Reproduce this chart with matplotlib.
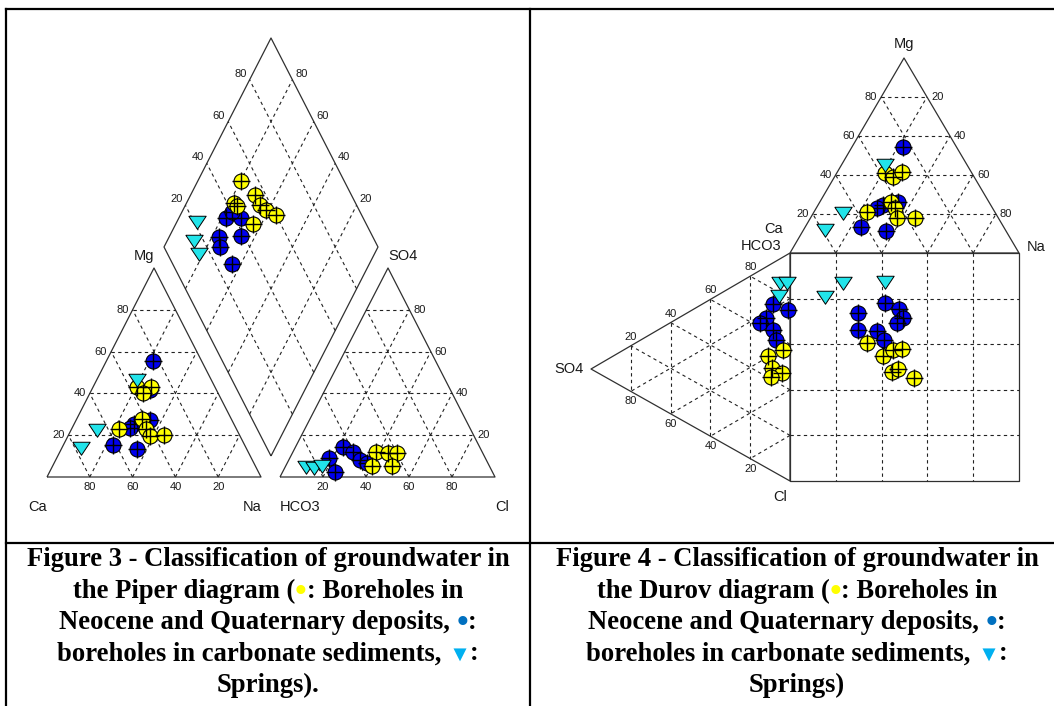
import numpy as np
import matplotlib
matplotlib.use('Agg')
from matplotlib import pyplot as plt

W, H = 1054, 706

# ---------------- values (percent) ----------------
# Piper, cation triangle: Mg %, Na % (Ca is the rest)
pip_cat_blue_mg = [55.5, 41.6, 25.4, 23.4, 27.3, 15.3, 13.4]
pip_cat_blue_na = [21.8, 27.3, 28.0, 27.1, 34.5, 23.2, 35.4]
pip_cat_yel_mg = [43.1, 43.1, 40.2, 23.0, 27.8, 23.0, 19.6, 20.1]
pip_cat_yel_na = [20.6, 27.1, 24.8, 22.1, 30.5, 34.8, 38.3, 44.7]
pip_cat_spr_mg = [46.4, 22.5, 13.9]
pip_cat_spr_na = [18.9, 12.2, 9.0]

# Piper, anion triangle: SO4 %, Cl % (HCO3 is the rest)
pip_an_blue_so4 = [14.4, 9.1, 2.4, 12.0, 8.1, 6.7]
pip_an_blue_cl = [22.1, 18.3, 24.4, 28.0, 33.1, 37.2]
pip_an_yel_so4 = [12.0, 5.3, 11.5, 11.5, 5.3]
pip_an_yel_cl = [38.7, 40.2, 44.5, 48.7, 49.5]
pip_an_spr_so4 = [4.8, 4.3, 5.3]
pip_an_spr_cl = [9.7, 13.6, 16.9]

# Piper, diamond: Ca+Mg %, SO4+Cl %
pip_dia_blue_camg = [78.2, 71.2, 76.4, 76.5, 66.9, 74.0, 64.0]
pip_dia_blue_so4cl = [35.7, 42.7, 40.4, 28.3, 38.4, 26.0, 28.0]
pip_dia_yel_camg = [80.0, 69.7, 65.0, 61.0, 55.1, 63.7, 78.0, 75.5]
pip_dia_yel_so4cl = [51.5, 55.2, 55.1, 56.7, 60.2, 47.3, 43.0, 44.1]
pip_dia_spr_camg = [90.8, 87.6, 82.2]
pip_dia_spr_so4cl = [21.2, 15.2, 14.5]

# Durov, cation triangle: Mg %, Na %
dur_cat_blue_mg = [54.4, 24.6, 26.2, 23.1, 11.3, 13.3]
dur_cat_blue_na = [22.1, 28.3, 34.1, 26.5, 36.3, 24.3]
dur_cat_yel_mg = [41.0, 39.0, 41.5, 21.0, 26.2, 23.1, 17.9, 17.9]
dur_cat_yel_na = [21.0, 25.5, 28.1, 23.1, 31.0, 34.4, 37.7, 45.6]
dur_cat_spr_mg = [45.1, 20.5, 11.8]
dur_cat_spr_na = [18.9, 12.8, 9.4]

# Durov, anion triangle: SO4 %, Cl %
dur_an_blue_so4 = [8.5, 1.0, 12.1, 15.1, 8.5, 7.0]
dur_an_blue_cl = [18.1, 24.5, 22.5, 23.2, 29.5, 34.7]
dur_an_yel_so4 = [11.1, 3.5, 9.0, 4.0, 9.5]
dur_an_yel_cl = [39.7, 40.7, 45.9, 50.6, 49.6]
dur_an_spr_so4 = [5.0, 1.5, 5.5]
dur_an_spr_cl = [10.7, 12.4, 16.1]

# Durov, central square: horizontal % (from left), vertical % (from top)
dur_sq_blue_x = [29.7, 29.7, 41.5, 47.6, 49.3, 46.7, 38.0, 41.0]
dur_sq_blue_y = [26.3, 33.8, 21.9, 24.6, 28.5, 30.7, 34.2, 38.2]
dur_sq_yel_x = [33.6, 40.6, 45.0, 48.9, 44.5, 47.2, 54.1]
dur_sq_yel_y = [39.5, 45.2, 42.5, 42.1, 52.2, 50.9, 54.8]
dur_sq_spr_x = [15.3, 23.1, 41.5]
dur_sq_spr_y = [19.3, 13.2, 12.7]

grid_levels = [20, 40, 60, 80]

caption_left = [
    [("Figure 3 - Classification of groundwater in", 'k')],
    [("the Piper diagram (", 'k'), ("\u2022", '#FFFF00'), (": Boreholes in", 'k')],
    [("Neocene and Quaternary deposits,", 'k'), (" ", None), ("\u2022", '#0070C0'), (":", 'k')],
    [("boreholes in carbonate sediments,", 'k'), (" ", None), ("\u25BC", '#00B0F0'), (":", 'k')],
    [("Springs).", 'k')],
]
caption_right = [
    [("Figure 4 - Classification of groundwater in", 'k')],
    [("the Durov diagram (", 'k'), ("\u2022", '#FFFF00'), (": Boreholes in", 'k')],
    [("Neocene and Quaternary deposits,", 'k'), (" ", None), ("\u2022", '#0070C0'), (":", 'k')],
    [("boreholes in carbonate sediments,", 'k'), (" ", None), ("\u25BC", '#00B0F0'), (":", 'k')],
    [("Springs)", 'k')],
]

c_yellow = '#FFFF00'
c_blue = '#0000F0'
c_cyan = '#22E4EA'

sans = ['Liberation Sans', 'DejaVu Sans']
serif = ['Liberation Serif', 'DejaVu Serif']

fig = plt.figure(figsize=(W / 100, H / 100), dpi=100)
ax = fig.add_axes([0, 0, 1, 1])
ax.set_xlim(0, W)
ax.set_ylim(H, 0)
ax.axis('off')


def tri(o, a, b, fa, fb):
    fa = np.asarray(fa, float) / 100
    fb = np.asarray(fb, float) / 100
    x = o[0] + fa * (a[0] - o[0]) + fb * (b[0] - o[0])
    y = o[1] + fa * (a[1] - o[1]) + fb * (b[1] - o[1])
    return x, y


def seg(p, q, **kw):
    ax.plot([p[0], q[0]], [p[1], q[1]], **kw)


edge_kw = dict(color='#303030', lw=0.9, solid_capstyle='butt')
dash_kw = dict(color='#222222', lw=0.8, ls=(0, (3, 3)))


def triangle(o, a, b):
    ax.plot([o[0], a[0], b[0], o[0]], [o[1], a[1], b[1], o[1]], **edge_kw)
    for f in grid_levels:
        seg(tri(o, a, b, 0, f), tri(o, a, b, 100 - f, f), **dash_kw)
        seg(tri(o, a, b, f, 0), tri(o, a, b, f, 100 - f), **dash_kw)
        seg(tri(o, a, b, 100 - f, 0), tri(o, a, b, 0, 100 - f), **dash_kw)


def circles(x, y, fc):
    ax.plot(x, y, 'o', ms=10.8, mfc=fc, mec='k', mew=0.8, ls='none')
    ax.plot(x, y, '+', ms=13, mec='k', mew=1.0, ls='none')


spring_marker = [(-1, 0.72), (1, 0.72), (0, -0.78), (-1, 0.72)]


def springs(x, y):
    ax.plot(x, y, marker=spring_marker, ms=12.5, mfc=c_cyan, mec='k', mew=0.7, ls='none')


def lab(x, y, s, size=8, **kw):
    ax.text(x, y, s, fontsize=size, family=sans, color='#1a1a1a', **kw)


# ======================= Piper diagram =======================
P_CA, P_NA, P_MG = (47, 477), (261, 477), (154, 268)
P_HC, P_CL, P_SO = (280, 477), (495, 477), (388, 268)
D_B, D_L, D_R = (271, 456), (164, 247), (378, 247)

triangle(P_CA, P_NA, P_MG)
triangle(P_HC, P_CL, P_SO)

# diamond
dia = lambda p, q: tri(D_B, D_L, D_R, p, q)
corners = [dia(0, 0), dia(100, 0), dia(100, 100), dia(0, 100), dia(0, 0)]
ax.plot([c[0] for c in corners], [c[1] for c in corners], **edge_kw)
for f in grid_levels:
    seg(dia(f, 0), dia(f, 100), **dash_kw)
    seg(dia(0, f), dia(100, f), **dash_kw)

for f in grid_levels:
    x, y = tri(P_CA, P_NA, P_MG, 0, f)
    lab(x - 4, y, str(f), ha='right', va='center')
    x, y = tri(P_CA, P_NA, P_MG, 100 - f, 0)
    lab(x, y + 10, str(f), ha='center', va='center')
    x, y = tri(P_HC, P_CL, P_SO, 100 - f, f)
    lab(x + 4, y, str(f), ha='left', va='center')
    x, y = tri(P_HC, P_CL, P_SO, f, 0)
    lab(x, y + 10, str(f), ha='center', va='center')
    x, y = dia(100, f)
    lab(x - 3, y - 1, str(f), ha='right', va='bottom')
    x, y = dia(f, 100)
    lab(x + 3, y - 1, str(f), ha='left', va='bottom')

lab(P_MG[0], P_MG[1] - 12, 'Mg', size=10.5, ha='right', va='center')
lab(P_SO[0], P_SO[1] - 12, 'SO4', size=10.5, ha='left', va='center')
lab(P_CA[0], 507, 'Ca', size=10.5, ha='right', va='center')
lab(P_NA[0], 507, 'Na', size=10.5, ha='right', va='center')
lab(P_HC[0], 507, 'HCO3', size=10.5, ha='left', va='center')
lab(P_CL[0], 507, 'Cl', size=10.5, ha='left', va='center')

circles(*tri(P_CA, P_NA, P_MG, pip_cat_blue_na, pip_cat_blue_mg), c_blue)
circles(*tri(P_CA, P_NA, P_MG, pip_cat_yel_na, pip_cat_yel_mg), c_yellow)
springs(*tri(P_CA, P_NA, P_MG, pip_cat_spr_na, pip_cat_spr_mg))

circles(*tri(P_HC, P_CL, P_SO, pip_an_blue_cl, pip_an_blue_so4), c_blue)
circles(*tri(P_HC, P_CL, P_SO, pip_an_yel_cl, pip_an_yel_so4), c_yellow)
springs(*tri(P_HC, P_CL, P_SO, pip_an_spr_cl, pip_an_spr_so4))

circles(*dia(pip_dia_blue_camg, pip_dia_blue_so4cl), c_blue)
circles(*dia(pip_dia_yel_camg, pip_dia_yel_so4cl), c_yellow)
springs(*dia(pip_dia_spr_camg, pip_dia_spr_so4cl))

# ======================= Durov diagram =======================
U_L, U_R, U_A = (790, 253), (1019, 253), (904, 58)
V_T, V_C, V_S = (790, 253), (790, 481), (591, 369)
SQ_X0, SQ_X1, SQ_Y0, SQ_Y1 = 790, 1019, 253, 481

triangle(U_L, U_R, U_A)
triangle(V_T, V_C, V_S)
ax.plot([SQ_X0, SQ_X1, SQ_X1, SQ_X0, SQ_X0], [SQ_Y0, SQ_Y0, SQ_Y1, SQ_Y1, SQ_Y0], **edge_kw)
for f in grid_levels:
    xg = SQ_X0 + (SQ_X1 - SQ_X0) * f / 100
    yg = SQ_Y0 + (SQ_Y1 - SQ_Y0) * f / 100
    seg((xg, SQ_Y0), (xg, SQ_Y1), **dash_kw)
    seg((SQ_X0, yg), (SQ_X1, yg), **dash_kw)

for f in grid_levels:
    x, y = tri(U_L, U_R, U_A, 0, f)
    lab(x - 4, y, str(f), ha='right', va='center')
    x, y = tri(U_L, U_R, U_A, 100 - f, f)
    lab(x + 4, y, str(100 - f), ha='left', va='center')
    x, y = tri(V_T, V_C, V_S, 0, f)
    lab(x, y - 4, str(100 - f), ha='center', va='bottom')
    x, y = tri(V_T, V_C, V_S, 100 - f, f)
    lab(x, y + 5, str(f), ha='center', va='top')

lab(U_A[0], U_A[1] - 14, 'Mg', size=10.5, ha='center', va='center')
lab(U_R[0] + 8, U_R[1] - 6, 'Na', size=10.5, ha='left', va='center')
lab(U_L[0] - 7, 229, 'Ca', size=10.5, ha='right', va='center')
lab(U_L[0] - 9, 246, 'HCO3', size=10.5, ha='right', va='center')
lab(V_S[0] - 7, V_S[1], 'SO4', size=10.5, ha='right', va='center')
lab(V_C[0] - 3, V_C[1] + 16, 'Cl', size=10.5, ha='right', va='center')


def sq(xp, yp):
    return (SQ_X0 + (SQ_X1 - SQ_X0) * np.asarray(xp) / 100,
            SQ_Y0 + (SQ_Y1 - SQ_Y0) * np.asarray(yp) / 100)


circles(*tri(U_L, U_R, U_A, dur_cat_blue_na, dur_cat_blue_mg), c_blue)
circles(*tri(U_L, U_R, U_A, dur_cat_yel_na, dur_cat_yel_mg), c_yellow)
springs(*tri(U_L, U_R, U_A, dur_cat_spr_na, dur_cat_spr_mg))

circles(*tri(V_T, V_C, V_S, dur_an_blue_cl, dur_an_blue_so4), c_blue)
circles(*tri(V_T, V_C, V_S, dur_an_yel_cl, dur_an_yel_so4), c_yellow)
springs(*tri(V_T, V_C, V_S, dur_an_spr_cl, dur_an_spr_so4))

circles(*sq(dur_sq_blue_x, dur_sq_blue_y), c_blue)
circles(*sq(dur_sq_yel_x, dur_sq_yel_y), c_yellow)
springs(*sq(dur_sq_spr_x, dur_sq_spr_y))

# ======================= table frame and captions =======================
frame_kw = dict(color='k', lw=1.6, solid_capstyle='projecting')
ax.plot([6, W + 5], [9, 9], **frame_kw)
ax.plot([6, 6], [9, H + 5], **frame_kw)
ax.plot([530, 530], [9, H + 5], **frame_kw)
ax.plot([6, W + 5], [543, 543], **frame_kw)

renderer = fig.canvas.get_renderer()
cap_size = 19.2
cap_kw = dict(fontsize=cap_size, fontweight='bold', family=serif, va='baseline', ha='left')


def text_width(s, **kw):
    t = ax.text(0, 0, s, **kw)
    w = t.get_window_extent(renderer).width
    t.remove()
    return w


space_w = text_width('n n', **cap_kw) - text_width('nn', **cap_kw)


def caption(lines, xc, baselines):
    for parts, yb in zip(lines, baselines):
        items = []
        for s, c in parts:
            if c is None:
                items.append((None, space_w))
                continue
            kw = dict(cap_kw)
            y = yb
            if s == '\u25BC':
                kw['fontsize'] = 16
            elif s == '\u2022':
                kw['fontsize'] = 24
                y = yb + 3
            t = ax.text(0, y, s, color=c, **kw)
            items.append((t, t.get_window_extent(renderer).width))
        x = xc - sum(w for _, w in items) / 2
        for t, w in items:
            if t is not None:
                t.set_x(x)
            x += w


baselines = [566, 597.5, 629, 660.5, 692]
caption(caption_left, 268, baselines)
caption(caption_right, 797, baselines)

fig.savefig('out.png', dpi=100)
